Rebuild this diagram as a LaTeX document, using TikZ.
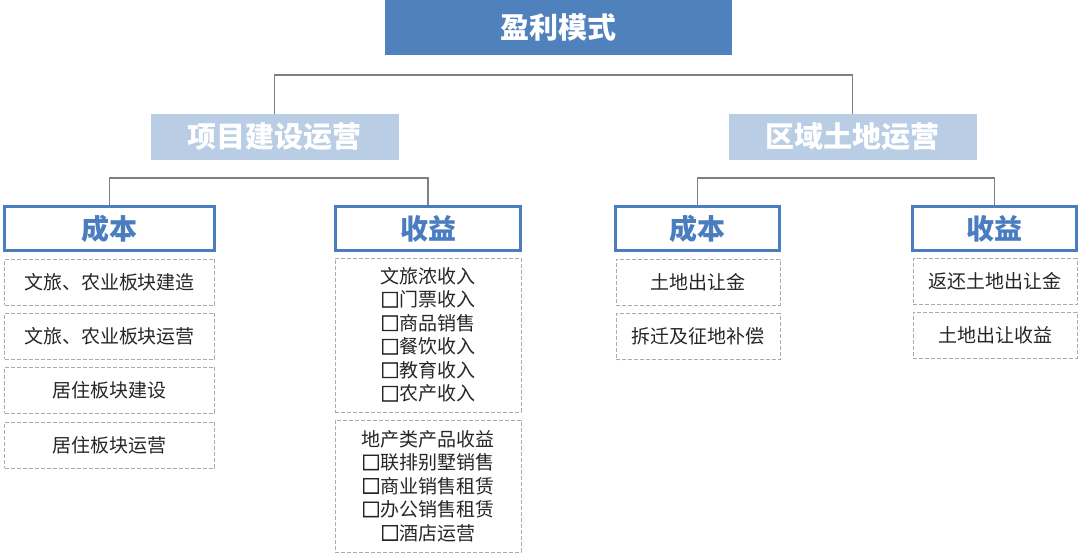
\documentclass[tikz,border=0pt]{standalone}
\usepackage{fontspec}
\setmainfont{Noto Sans CJK SC}
\newfontfamily\markfont[FakeBold=4]{Noto Sans CJK SC}
\definecolor{rootblue}{HTML}{4F81BD}
\definecolor{sideblue}{HTML}{B9CDE5}
\definecolor{headblue}{HTML}{4A7CC0}
\definecolor{dashgray}{HTML}{ABABAB}
\definecolor{linegray}{HTML}{808080}
\definecolor{itemtext}{HTML}{262626}
\newcommand{\boxmark}{{\markfont □}}

\begin{document}
\begin{tikzpicture}[x=1pt,y=-1pt]
\tikzstyle{every node}+=[inner sep=0pt]
\tikzstyle{rootbox}=[fill=rootblue,text=white,font=\fontsize{29}{32}\selectfont\bfseries,minimum width=347pt,minimum height=55pt]
\tikzstyle{sidebox}=[fill=sideblue,text=white,font=\fontsize{29}{32}\selectfont\bfseries,minimum width=248pt,minimum height=46pt]
\tikzstyle{headbox}=[draw=headblue,line width=3.5pt,fill=white,text=headblue,font=\fontsize{28}{32}\selectfont\bfseries,minimum height=44pt]
\tikzstyle{itembox}=[draw=dashgray,line width=0.9pt,dash pattern=on 4pt off 2pt,text=itemtext,font=\fontsize{19}{23.5}\selectfont,align=center,minimum height=46pt]
\tikzstyle{link}=[draw=linegray,line width=1.3pt]
\useasboundingbox (0,0) rectangle (1080,555);
\node [rootbox] (root) at (558.5,27.5) {盈利模式};
\node [sidebox] (proj) at (274.5,137) {项目建设运营};
\node [sidebox] (land) at (852.5,137) {区域土地运营};
\coordinate (bar1) at (0,75);
\coordinate (bar2) at (0,178);
\draw [link] (proj.north) -- (proj.north |- bar1) -- (land.north |- bar1) -- (land.north);
\node [headbox,minimum width=210pt] (pcost) at (109.5,228.5) {成本};
\node [headbox,minimum width=185pt] (pgain) at (428,228.5) {收益};
\node [headbox,minimum width=164pt] (lcost) at (697.5,228.5) {成本};
\node [headbox,minimum width=164pt] (lgain) at (994.5,228.5) {收益};
\draw [link] (pcost.north) -- (pcost.north |- bar2) -- (pgain.north |- bar2) -- (pgain.north);
\draw [link] (lcost.north) -- (lcost.north |- bar2) -- (lgain.north |- bar2) -- (lgain.north);
\node [itembox,minimum width=210pt] (pc1) at (109.5,282) {文旅、农业板块建造};
\node [itembox,minimum width=210pt] (pc2) at (109.5,336) {文旅、农业板块运营};
\node [itembox,minimum width=210pt] (pc3) at (109.5,390) {居住板块建设};
\node [itembox,minimum width=210pt] (pc4) at (109.5,445) {居住板块运营};
\node [itembox,minimum width=186pt,minimum height=154pt] (pg1) at (428,335) {文旅浓收入\\\boxmark 门票收入\\\boxmark 商品销售\\\boxmark 餐饮收入\\\boxmark 教育收入\\\boxmark 农产收入};
\node [itembox,minimum width=186pt,minimum height=132pt] (pg2) at (428,486) {地产类产品收益\\\boxmark 联排别墅销售\\\boxmark 商业销售租赁\\\boxmark 办公销售租赁\\\boxmark 酒店运营};
\node [itembox,minimum width=164pt] (lc1) at (698,282) {土地出让金};
\node [itembox,minimum width=164pt] (lc2) at (698,336.5) {拆迁及征地补偿};
\node [itembox,minimum width=164pt] (lg1) at (995,281.5) {返还土地出让金};
\node [itembox,minimum width=164pt] (lg2) at (995,335) {土地出让收益};
\end{tikzpicture}
\end{document}
